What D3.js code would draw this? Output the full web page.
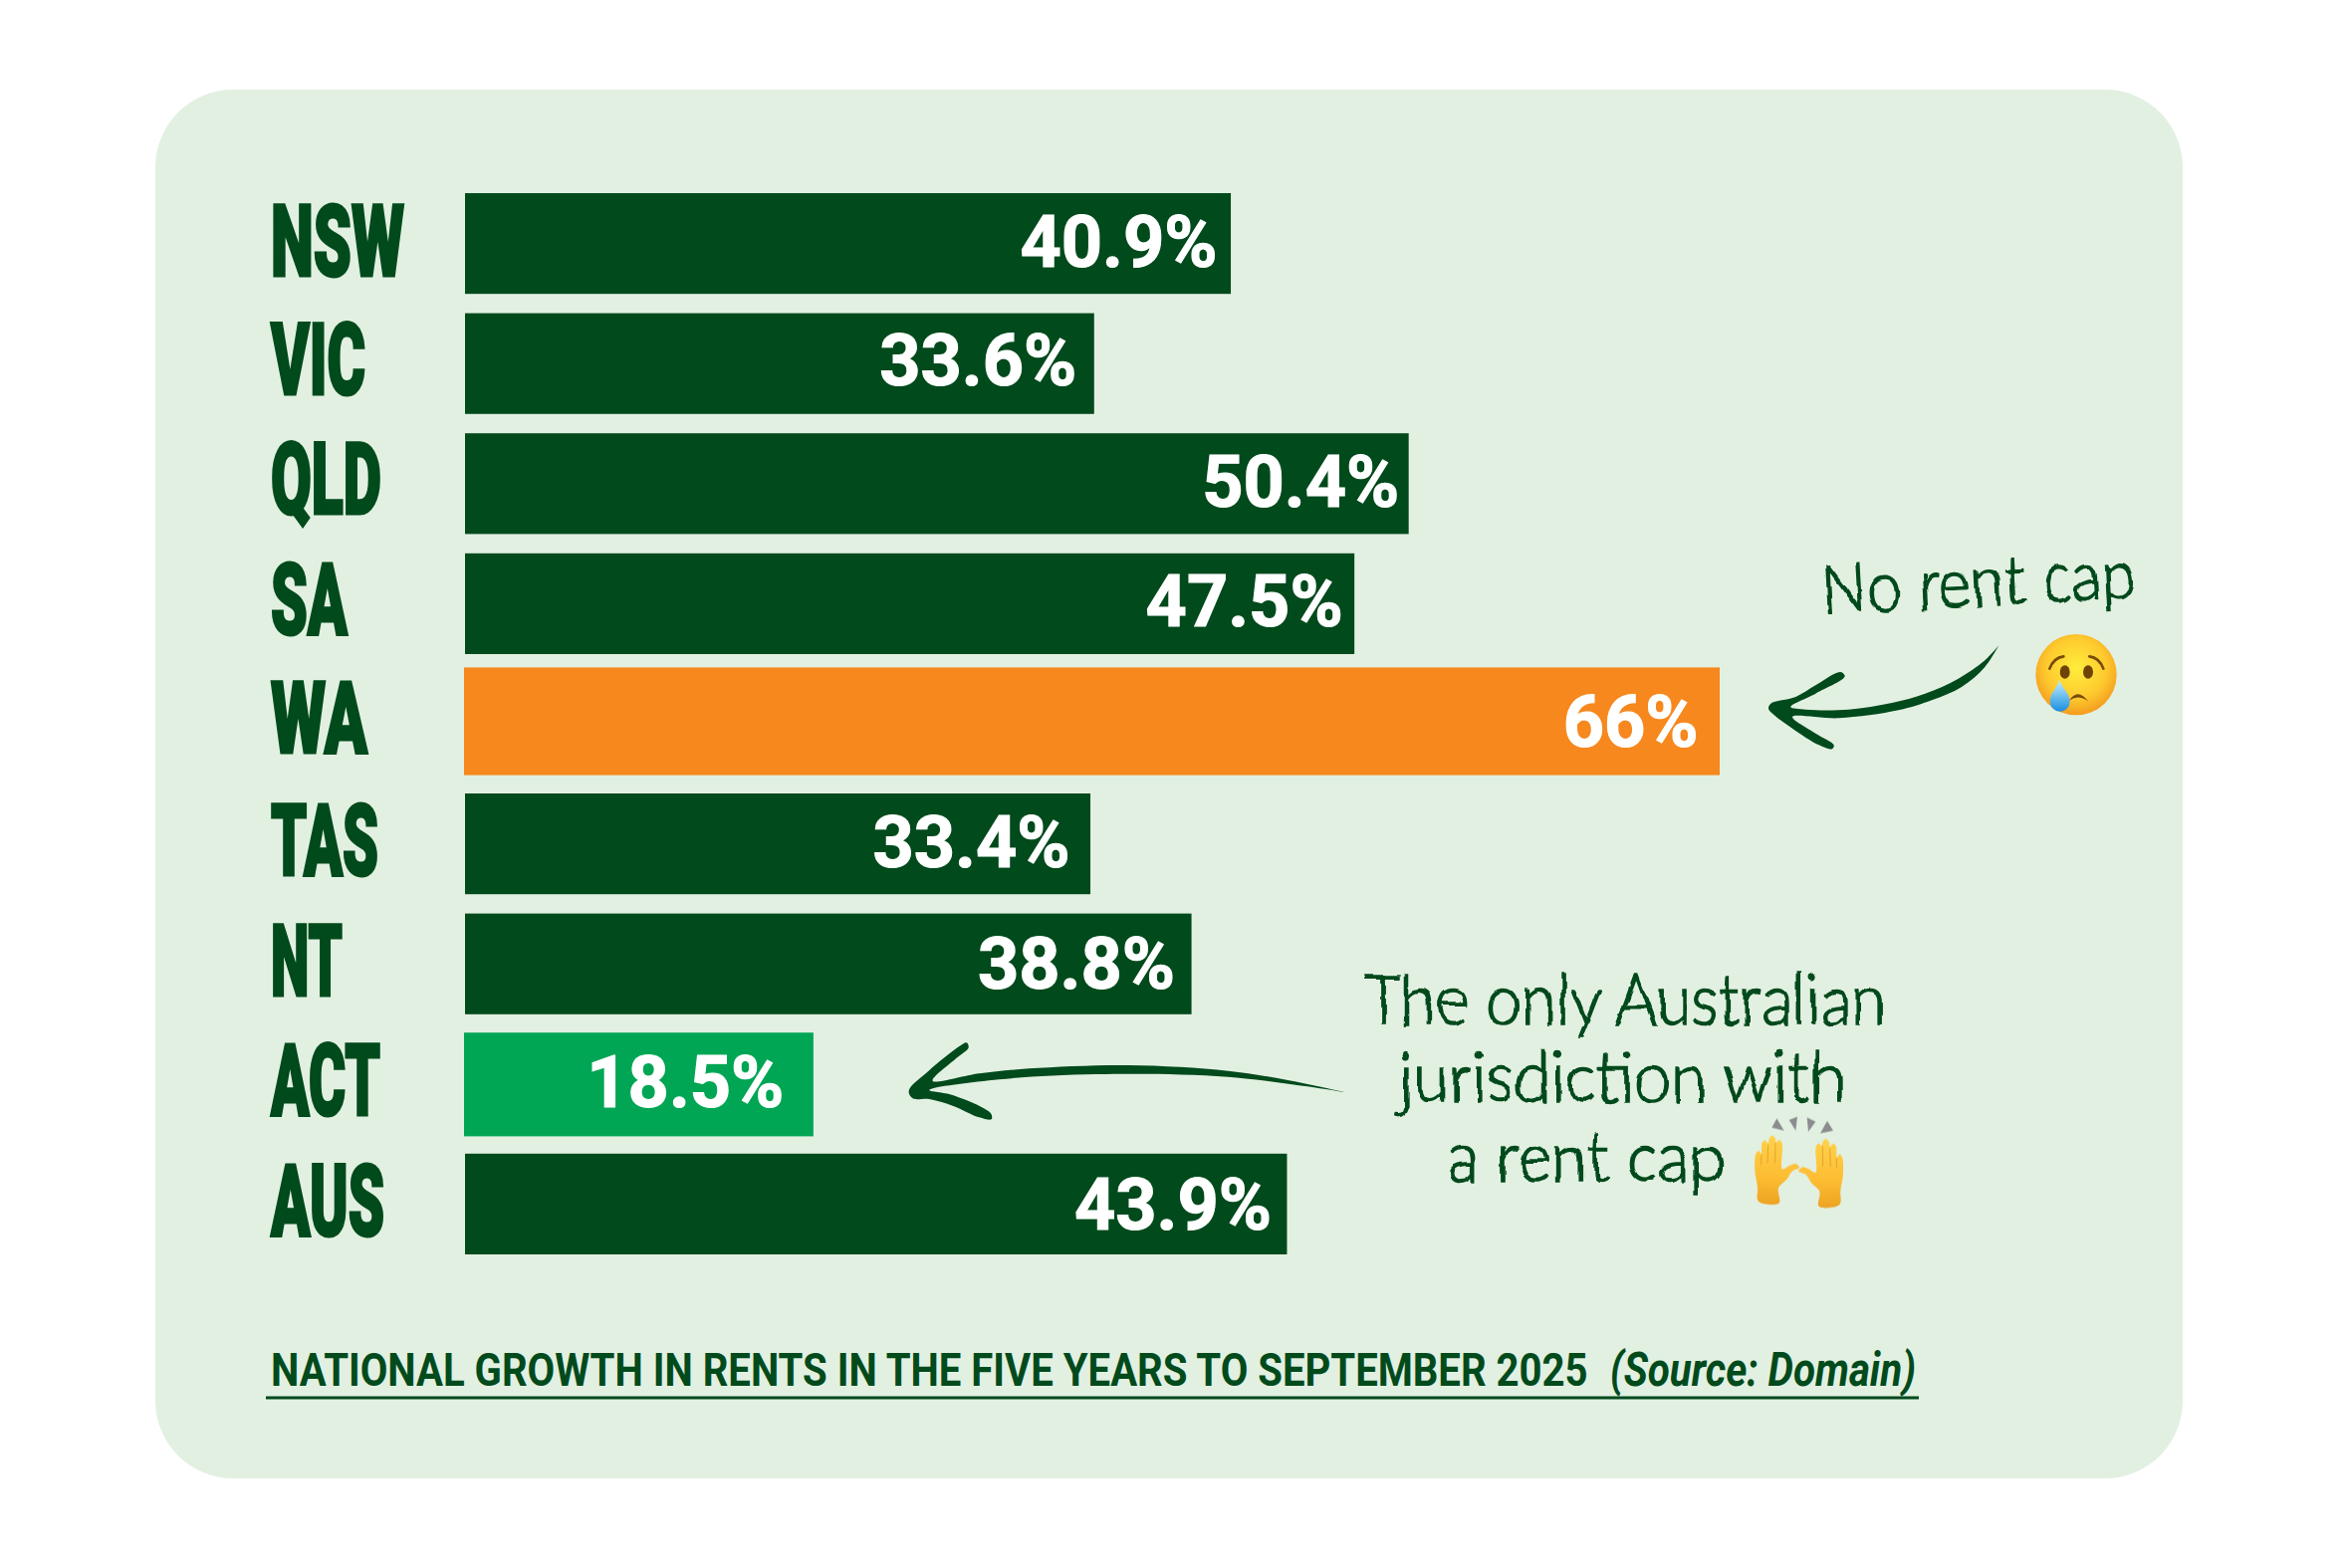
<!DOCTYPE html>
<html>
<head>
<meta charset="utf-8">
<script src="https://cdn.jsdelivr.net/npm/d3@7"></script>
<style>
  html, body { margin: 0; padding: 0; background: #fff; }
  svg { display: block; }
</style>
</head>
<body>
<svg id="chart" width="2361" height="1575"></svg>
<script>
// Chart data
var states = ["NSW", "VIC", "QLD", "SA", "WA", "TAS", "NT", "ACT", "AUS"];
var growth = [40.9, 33.6, 50.4, 47.5, 66, 33.4, 38.8, 18.5, 43.9];
var valueLabels = ["40.9%", "33.6%", "50.4%", "47.5%", "66%", "33.4%", "38.8%", "18.5%", "43.9%"];
var footerTitle = "NATIONAL GROWTH IN RENTS IN THE FIVE YEARS TO SEPTEMBER 2025";
var footerSource = "(Source: Domain)";
var noteOne = "No rent cap";
var noteTwo = ["The only Australian", "jurisdiction with", "a rent cap"];

// Colours
var dark = "#004a1c", panel = "#e2f0e1", orange = "#f6881e", bright = "#01a654";

// Layout tweaks per row: highlighted bars overhang their band, labels were placed by hand
var barColour = { WA: orange, ACT: bright };
var barPad = {
  WA: { left: 1, right: 19, top: 6, bottom: 1 },
  ACT: { left: 1, right: 2, top: 1, bottom: 2 }
};
var labelInset = { NSW: 13.5, VIC: 17.5, QLD: 9.5, SA: 11.5, WA: 21.5, TAS: 20.5, NT: 16.5, ACT: 29.5, AUS: 15.5 };
var labelNudge = { NSW: -1, VIC: -2.5, QLD: -1, SA: -2, WA: -1, TAS: -1, NT: 0, ACT: -1, AUS: 1 };
var stateNudge = { NSW: 0, VIC: -1.5, QLD: -2, SA: -2, WA: -3.5, TAS: -1, NT: -1, ACT: -1, AUS: -1 };
var stateWidth = { NSW: 134, VIC: 95, QLD: 111, SA: 77, WA: 97, TAS: 108, NT: 72, ACT: 110, AUS: 114 };

var rows = states.map(function(s, i) {
  return { state: s, value: growth[i], label: valueLabels[i] };
});

var svg = d3.select("#chart");
var defs = svg.append("defs");

// Slight wobble so the notes look hand written
var wobble = defs.append("filter").attr("id", "wobble")
    .attr("x", "-5%").attr("y", "-20%").attr("width", "110%").attr("height", "140%");
wobble.append("feTurbulence").attr("type", "fractalNoise")
    .attr("baseFrequency", 0.035).attr("numOctaves", 2).attr("seed", 7).attr("result", "n");
wobble.append("feDisplacementMap").attr("in", "SourceGraphic").attr("in2", "n")
    .attr("scale", 7).attr("xChannelSelector", "R").attr("yChannelSelector", "G");

// Background panel
svg.append("rect")
    .attr("x", 156).attr("y", 90)
    .attr("width", 2036).attr("height", 1395)
    .attr("rx", 78).attr("ry", 78)
    .attr("fill", panel);

var x = d3.scaleLinear().domain([0, 66]).range([467, 1708]);
var y = d3.scaleBand().domain(states).range([194, 1260]).paddingInner(0.161);

// Bars
svg.append("g").selectAll("rect")
    .data(rows)
    .join("rect")
    .attr("x", function(d) {
        var p = barPad[d.state];
        return x(0) - (p ? p.left : 0);
    })
    .attr("y", function(d) {
        var p = barPad[d.state];
        return y(d.state) - (p ? p.top : 0);
    })
    .attr("width", function(d) {
        var p = barPad[d.state];
        return x(d.value) - x(0) + (p ? p.left + p.right : 0);
    })
    .attr("height", function(d) {
        var p = barPad[d.state];
        return y.bandwidth() + (p ? p.top + p.bottom : 0);
    })
    .attr("fill", function(d) { return barColour[d.state] || dark; });

// State names, squeezed into a heavy condensed look
svg.append("g").selectAll("text")
    .data(rows)
    .join("text")
    .attr("x", 272)
    .attr("y", function(d) { return y(d.state) + 83 + stateNudge[d.state]; })
    .attr("textLength", function(d) { return stateWidth[d.state]; })
    .attr("lengthAdjust", "spacingAndGlyphs")
    .attr("font-family", "Roboto")
    .attr("font-weight", 900)
    .attr("font-size", 101)
    .attr("fill", dark)
    .attr("stroke", dark)
    .attr("stroke-width", 3)
    .attr("stroke-linejoin", "miter")
    .text(function(d) { return d.state; });

// Value labels
svg.append("g").selectAll("text")
    .data(rows)
    .join("text")
    .attr("x", function(d) {
        var p = barPad[d.state];
        return x(d.value) + (p ? p.right : 0) - labelInset[d.state];
    })
    .attr("y", function(d) { return y(d.state) + 75 + labelNudge[d.state]; })
    .attr("text-anchor", "end")
    .attr("font-family", "Roboto")
    .attr("font-weight", 700)
    .attr("font-size", 72)
    .attr("fill", "#fff")
    .attr("stroke", "#fff")
    .attr("stroke-width", 1.2)
    .text(function(d) { return d.label; });

// Footer, condensed with a real scale so each box stays its own width
function footerText(str, px, width, style) {
    var t = svg.append("text")
        .attr("font-family", "Roboto").attr("font-weight", 700).attr("font-size", 47)
        .attr("font-style", style)
        .attr("fill", dark)
        .text(str);
    var k = width / t.node().getComputedTextLength();
    t.attr("transform", "translate(" + px + ",1392) scale(" + k + ",1)");
}
footerText(footerTitle, 272, 1323, "normal");
footerText(footerSource, 1617, 307, "italic");
svg.append("line")
    .attr("x1", 267).attr("x2", 1927)
    .attr("y1", 1404).attr("y2", 1404)
    .attr("stroke", dark).attr("stroke-width", 3);

// Hand written notes
function note(g, str, px, py, width, angle) {
    g.append("text")
        .attr("transform", "translate(" + px + "," + py + ") rotate(" + angle + ")")
        .attr("textLength", width)
        .attr("lengthAdjust", "spacingAndGlyphs")
        .attr("font-family", "Lato")
        .attr("font-weight", 300)
        .attr("font-size", 70)
        .attr("fill", dark)
        .attr("stroke", dark)
        .attr("stroke-width", 1.6)
        .text(str);
}
var notes = svg.append("g").attr("filter", "url(#wobble)");
note(notes, noteOne, 1830, 617, 316, -3);
note(notes, noteTwo[0], 1370, 1029, 524, 0);
note(notes, noteTwo[1], 1404, 1107, 450, 0);
note(notes, noteTwo[2], 1453, 1187, 280, 0);

// Brush arrows, outlines traced in 3x space
var outline = d3.line().curve(d3.curveCatmullRom.alpha(0.5));
function arrow(pts, ox, oy) {
    svg.append("path")
        .attr("transform", "translate(" + ox + "," + oy + ") scale(" + (1 / 3) + ")")
        .attr("d", outline(pts) + "Z")
        .attr("fill", dark);
}
arrow([[922, 385], [880, 430], [800, 485], [700, 530], [600, 558], [470, 578], [340, 578], [295, 570],
       [370, 530], [458, 478], [445, 465], [370, 505], [310, 540], [235, 560], [228, 575], [240, 590],
       [300, 635], [380, 685], [420, 697], [425, 685], [370, 650], [300, 600],
       [440, 604], [620, 580], [720, 550], [810, 510], [880, 450], [922, 385]], 1700, 520);
arrow([[1356, 187], [1180, 150], [1000, 122], [700, 105], [400, 115], [250, 130], [110, 152],
       [180, 85], [218, 52], [212, 37], [190, 48], [100, 120], [38, 182], [50, 205],
       [100, 207], [170, 227], [250, 262], [287, 268], [285, 250], [170, 195], [100, 180],
       [310, 148], [600, 132], [1000, 140], [1356, 187]], 900, 1035);

// Crying face
var faceFill = defs.append("radialGradient").attr("id", "faceFill")
    .attr("cx", "50%").attr("cy", "42%").attr("r", "58%");
faceFill.append("stop").attr("offset", "0%").attr("stop-color", "#ffee3c");
faceFill.append("stop").attr("offset", "65%").attr("stop-color", "#fdc92e");
faceFill.append("stop").attr("offset", "100%").attr("stop-color", "#f49b1e");
var tearFill = defs.append("linearGradient").attr("id", "tearFill")
    .attr("x1", 0).attr("y1", 0).attr("x2", 0).attr("y2", 1);
tearFill.append("stop").attr("offset", "0%").attr("stop-color", "#c4f0ff");
tearFill.append("stop").attr("offset", "100%").attr("stop-color", "#1c8fe0");

var face = svg.append("g").attr("transform", "translate(2035,630) scale(" + (1 / 3) + ")");
face.append("circle").attr("cx", 150).attr("cy", 143).attr("r", 122).attr("fill", "url(#faceFill)");
["M70,125Q82,92 112,88", "M190,88Q220,92 232,125"].forEach(function(d) {
    face.append("path").attr("d", d).attr("fill", "none")
        .attr("stroke", "#7a4a08").attr("stroke-width", 8).attr("stroke-linecap", "round");
});
face.append("ellipse").attr("cx", 116).attr("cy", 135).attr("rx", 15).attr("ry", 20).attr("fill", "#6f4208");
face.append("ellipse").attr("cx", 186).attr("cy", 135).attr("rx", 15).attr("ry", 20).attr("fill", "#6f4208");
face.append("path").attr("d", "M128,222Q155,180 187,224Q155,200 128,222Z").attr("fill", "#7a4a08");
face.append("path").attr("d", "M100,158C92,185 71,198 71,224A29,29 0 0 0 131,224C131,198 108,185 100,158Z")
    .attr("fill", "url(#tearFill)");

// Raised hands
var handFill = defs.append("linearGradient").attr("id", "handFill")
    .attr("x1", 0).attr("y1", 0).attr("x2", 0).attr("y2", 1);
handFill.append("stop").attr("offset", "0%").attr("stop-color", "#ffd24c");
handFill.append("stop").attr("offset", "60%").attr("stop-color", "#fdbd33");
handFill.append("stop").attr("offset", "100%").attr("stop-color", "#eda322");

var handLine = d3.line().curve(d3.curveCatmullRomClosed.alpha(0.5));
var handPts = [[78, 305], [75, 262], [67, 212], [70, 162], [78, 153], [86, 162], [88, 130], [97, 121], [107, 130],
               [110, 116], [119, 107], [129, 116], [131, 128], [140, 120], [149, 130], [150, 208], [172, 197],
               [190, 192], [201, 204], [180, 214], [162, 240], [138, 265], [140, 310]];
var hands = svg.append("g").attr("transform", "translate(1740,1105) scale(" + (1 / 3) + ")");
function hand(g) {
    g.append("path").attr("d", handLine(handPts)).attr("fill", "url(#handFill)");
    [[[107, 135], [105, 190]], [[129, 128], [128, 190]], [[87, 165], [86, 195]]].forEach(function(l) {
        g.append("line").attr("x1", l[0][0]).attr("y1", l[0][1]).attr("x2", l[1][0]).attr("y2", l[1][1])
            .attr("stroke", "#e3a62c").attr("stroke-width", 3);
    });
}
hand(hands.append("g"));
hand(hands.append("g").attr("transform", "translate(400,10) scale(-1,1)"));
["M118,83L133,55L155,92Z", "M170,60L195,50L190,92Z", "M224,52L250,65L228,95Z", "M264,100L285,63L303,92Z"]
    .forEach(function(d) {
        hands.append("path").attr("d", d).attr("fill", "#8c8c90");
    });
</script>
</body>
</html>
